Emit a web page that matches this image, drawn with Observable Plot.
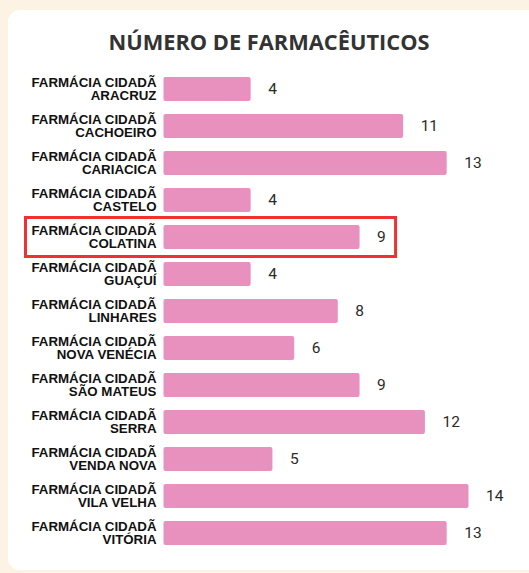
<!DOCTYPE html>
<html>
<head>
<meta charset="utf-8">
<script src="https://cdn.jsdelivr.net/npm/d3@7"></script>
<script src="https://cdn.jsdelivr.net/npm/@observablehq/plot@0.6"></script>
<style>
  html, body { margin: 0; padding: 0; }
  body { width: 529px; height: 573px; background: #fdf3e5; position: relative; overflow: hidden; }
  #card { position: absolute; left: 8px; top: 10px; width: 540px; height: 560px; background: #ffffff; border-radius: 12px; }
  #title { position: absolute; left: 0; top: 0; width: 538px; height: 56px; margin: 0;
    font-family: "Open Sans", sans-serif; font-weight: 700; font-size: 21.8px; color: #333333;
    text-align: center; line-height: 84px; }
  #chart { position: absolute; left: 0; top: 56px; }
</style>
</head>
<body>
<div id="card"></div>
<h2 id="title">NÚMERO DE FARMACÊUTICOS</h2>
<div id="chart"></div>
<script>
const prefix = "FARMÁCIA CIDADÃ";
const units = ["ARACRUZ", "CACHOEIRO", "CARIACICA", "CASTELO", "COLATINA", "GUAÇUÍ", "LINHARES", "NOVA VENÉCIA", "SÃO MATEUS", "SERRA", "VENDA NOVA", "VILA VELHA", "VITÓRIA"];
const values = [4, 11, 13, 4, 9, 4, 8, 6, 9, 12, 5, 14, 13];
const highlighted = ["COLATINA"];

const data = units.map((u, i) => ({unit: u, value: values[i]}));
const highlightData = data.filter(d => highlighted.includes(d.unit));

const chart = Plot.plot({
  width: 529,
  height: 517,
  marginLeft: 163.5,
  marginRight: 60.5,
  marginTop: 5.67,
  marginBottom: 12.7,
  x: {domain: [0, 14], axis: null},
  y: {domain: units, padding: 0.357, label: null},
  style: {background: "transparent", overflow: "visible"},
  marks: [
    Plot.barX(data, {y: "unit", x: "value", fill: "#e891bf", rx: 2}),
    Plot.barX(highlightData, {y: "unit", x1: 0, x2: "value", fill: "none", stroke: "#f03131", strokeWidth: 3,
      insetLeft: -138, insetRight: -36, insetTop: -7.5, insetBottom: -7.5}),
    Plot.text(data, {y: "unit", x: "value", text: d => String(d.value), dx: 17, textAnchor: "start",
      fontFamily: "Roboto, sans-serif", fontSize: 15.5, fill: "#2a2a2a"}),
    Plot.axisY({tickSize: 0, tickPadding: 7.5, label: null,
      tickFormat: d => prefix + "\n" + d, lineHeight: 0.96,
      fontFamily: "Liberation Sans, Arial, sans-serif", fontWeight: "bold", fontSize: 13.3, fill: "#111"})
  ]
});
document.getElementById("chart").appendChild(chart);
</script>
</body>
</html>
